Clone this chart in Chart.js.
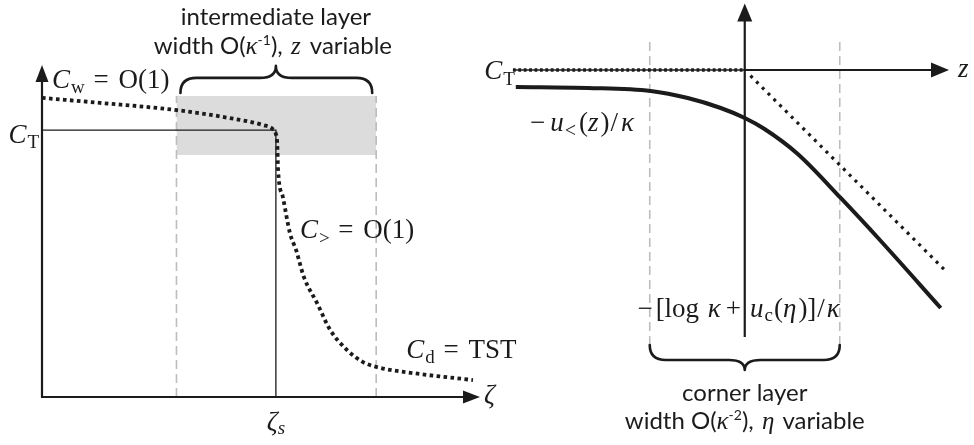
<!DOCTYPE html>
<html>
<head>
<meta charset="utf-8">
<title>Concentration profile with intermediate and corner layers</title>
<script src="https://cdn.jsdelivr.net/npm/chart.js@4"></script>
<style>
  html, body { margin: 0; padding: 0; background: #fff; }
  #wrap { position: relative; width: 974px; height: 445px; overflow: hidden; background: #fff; }
  canvas { position: absolute; top: 0; }
  #left { left: 0; }
  #right { left: 470px; }
</style>
</head>
<body>
<div id="wrap">
  <canvas id="left" width="540" height="445" style="width:540px;height:445px"></canvas>
  <canvas id="right" width="504" height="445" style="width:504px;height:445px"></canvas>
</div>
<script>
// ---------- Left panel: C against ζ (arbitrary units, axes span 0..100) ----------
const leftZeta = [0, 13.2, 30.8, 42.9, 50.5, 52.7, 53.4, 53.7, 53.9, 55.0, 56.6, 58.0, 59.8, 62.8, 65.8, 69.6, 73.3, 76.5, 84.7, 98.4];
const leftC    = [90.1, 88.6, 86.4, 84.0, 81.9, 80.7, 79.2, 76.5, 68.4, 60.2, 49.4, 44.3, 36.1, 28.3, 20.2, 14.2, 10.5, 9.0, 7.2, 5.1];
const zetaS = 53.4;                 // front position ζ_s
const cT = 80.4;                    // level C_T
const layerEdges = [30.7, 76.3];    // intermediate layer bounds in ζ
const shadeBand = [72.9, 90.7];     // shaded band in C

// ---------- Right panel: zoom on the corner, z variable ----------
const zOuter = [-2.41, -1.65, -0.99, -0.60, -0.253, 0, 0.2, 0.558, 1.01, 1.432, 2.063];
const uOuter = [-0.179, -0.189, -0.221, -0.295, -0.40, -0.505, -0.616, -0.884, -1.347, -1.80, -2.505];
const levelZ = [-2.44, 0];          // C_T level, left of the corner
const asymZ = [0.06, 2.1];          // sharp-corner asymptote, slope -1
const cornerEdges = [-1, 1];        // corner layer bounds in z
const cornerSpan = [-2.895, 0.347]; // vertical extent of the corner-layer guides

const INK = '#1b1b1b';
const GUIDE = '#bdbdbd';
const SHADE = '#dcdcdd';
const SERIF = '"Liberation Serif", "DejaVu Serif", serif';
const SANS = 'Lato, "Open Sans", sans-serif';
const M = 27;   // math font size
const SB = 19;  // subscript size

const pts = (xs, ys) => xs.map((x, i) => ({ x, y: ys[i] }));

// text runs: mixed italic / roman / sans pieces on one baseline; pad = extra advance after the piece
const I = (t, size = M, dy = 0, pad = 0) => ({ t, i: true, f: 'r', size, dy, pad });
const R = (t, size = M, dy = 0, pad = 0) => ({ t, i: false, f: 'r', size, dy, pad });
const S = (t, size = 24, dy = 0, pad = 0) => ({ t, i: false, f: 's', size, dy, pad });

function fontOf(p) {
  return (p.i ? 'italic ' : '') + p.size + 'px ' + (p.f === 's' ? SANS : SERIF);
}
function drawRuns(ctx, parts, x, y, align) {
  ctx.save();
  ctx.textBaseline = 'alphabetic';
  ctx.textAlign = 'left';
  ctx.fillStyle = INK;
  let w = 0;
  for (const p of parts) { ctx.font = fontOf(p); p.w = ctx.measureText(p.t).width + p.pad; w += p.w; }
  let cx = align === 'center' ? x - w / 2 : align === 'right' ? x - w : x;
  for (const p of parts) { ctx.font = fontOf(p); ctx.fillText(p.t, cx, y + p.dy); cx += p.w; }
  ctx.restore();
}
function axisArrow(ctx, x0, y0, x1, y1, len, half, width) {
  const d = Math.hypot(x1 - x0, y1 - y0), ux = (x1 - x0) / d, uy = (y1 - y0) / d;
  ctx.save();
  ctx.strokeStyle = INK; ctx.fillStyle = INK; ctx.lineWidth = width; ctx.lineCap = 'butt';
  ctx.beginPath(); ctx.moveTo(x0, y0); ctx.lineTo(x1 - ux * len * 0.7, y1 - uy * len * 0.7); ctx.stroke();
  const bx = x1 - ux * len, by = y1 - uy * len, nx = -uy, ny = ux;
  ctx.beginPath();
  ctx.moveTo(x1, y1);
  ctx.lineTo(bx + nx * half, by + ny * half);
  ctx.lineTo(bx - nx * half, by - ny * half);
  ctx.closePath(); ctx.fill();
  ctx.restore();
}
// horizontal curly brace; yEnd = tips of the arms, yMid = straight part, yTip = central cusp
function brace(ctx, x1, x2, xc, yEnd, yMid, yTip, width) {
  const r = 16;
  ctx.save();
  ctx.strokeStyle = INK; ctx.lineWidth = width; ctx.lineCap = 'round'; ctx.lineJoin = 'round';
  ctx.beginPath();
  ctx.moveTo(x1, yEnd);
  ctx.quadraticCurveTo(x1, yMid, x1 + r, yMid);
  ctx.lineTo(xc - r, yMid);
  ctx.quadraticCurveTo(xc, yMid, xc, yTip);
  ctx.quadraticCurveTo(xc, yMid, xc + r, yMid);
  ctx.lineTo(x2 - r, yMid);
  ctx.quadraticCurveTo(x2, yMid, x2, yEnd);
  ctx.stroke();
  ctx.restore();
}

const hiddenLinear = (min, max) => ({ type: 'linear', min, max, display: false });

// ---------------- left chart ----------------
const leftDecor = {
  id: 'leftDecor',
  afterDatasetsDraw(chart) {
    const ctx = chart.ctx, xs = chart.scales.x, ys = chart.scales.y;
    const ox = xs.getPixelForValue(0), oy = ys.getPixelForValue(0);
    axisArrow(ctx, ox, oy + 1, ox, ys.getPixelForValue(100), 17, 6.5, 2.2);
    axisArrow(ctx, ox - 1, oy, xs.getPixelForValue(100), oy, 17, 6.5, 2.2);

    const xc = xs.getPixelForValue(zetaS);
    const bTop = ys.getPixelForValue(shadeBand[1]);
    brace(ctx, xs.getPixelForValue(layerEdges[0]) + 4, xs.getPixelForValue(layerEdges[1]) - 4, xc,
          bTop - 3, bTop - 18, bTop - 30, 2.6);

    drawRuns(ctx, [S('intermediate layer')], xc, 25, 'center');
    drawRuns(ctx, [S('width O('), I('κ', 25), S('-1', 14, -9), S('), ', 24, 0, 2), I('z', 25, 0, 3), S(' variable')], xc - 3, 54, 'center');

    drawRuns(ctx, [I('C', M, 0, 1), R('w', SB, 5, 2), R(' = ', M, 0, 3), R('O(1)')], ox + 10, 88, 'left');
    drawRuns(ctx, [I('C', M, 0, 1), R('T', SB, 5)], ox - 3, ys.getPixelForValue(cT) + 13, 'right');
    drawRuns(ctx, [I('C', M, 0, 1), R('>', SB, 6, 2), R(' = ', M, 0, 3), R('O(1)')], xc + 24, 238, 'left');
    drawRuns(ctx, [I('C', M, 0, 1), R('d', SB, 5, 2), R(' = ', M, 0, 3), R('TST')], xs.getPixelForValue(layerEdges[1]) + 30, 358, 'left');
    drawRuns(ctx, [I('ζ'), I('s', SB, 4)], xc, 430, 'center');
    drawRuns(ctx, [I('ζ')], xs.getPixelForValue(100) + 4, oy + 6, 'left');
  }
};

new Chart(document.getElementById('left'), {
  type: 'scatter',
  data: {
    datasets: [
      { label: 'C', data: pts(leftZeta, leftC), showLine: true, borderColor: INK, borderWidth: 3.8,
        borderDash: [3.6, 3.4], borderCapStyle: 'butt', cubicInterpolationMode: 'monotone',
        pointRadius: 0, order: 0 },
      { label: 'C_T / ζ_s', data: [{ x: 0, y: cT }, { x: zetaS, y: cT }, { x: zetaS, y: 0 }], showLine: true,
        borderColor: INK, borderWidth: 1.3, pointRadius: 0, order: 1 },
      { label: 'layer edge', data: [{ x: layerEdges[0], y: 0 }, { x: layerEdges[0], y: shadeBand[1] }], showLine: true,
        borderColor: GUIDE, borderWidth: 1.6, borderDash: [9, 5], pointRadius: 0, order: 2 },
      { label: 'layer edge', data: [{ x: layerEdges[1], y: 0 }, { x: layerEdges[1], y: shadeBand[1] }], showLine: true,
        borderColor: GUIDE, borderWidth: 1.6, borderDash: [9, 5], pointRadius: 0, order: 2 },
      { label: 'layer band', data: [{ x: layerEdges[0], y: shadeBand[1] }, { x: layerEdges[1], y: shadeBand[1] }], showLine: true,
        borderWidth: 0, backgroundColor: SHADE, fill: { value: shadeBand[0] }, pointRadius: 0, order: 3 }
    ]
  },
  options: {
    responsive: false, animation: false, devicePixelRatio: 1,
    layout: { padding: { left: 42, right: 60, top: 65, bottom: 48 } },
    scales: { x: hiddenLinear(0, 100), y: hiddenLinear(0, 100) },
    plugins: { legend: { display: false }, tooltip: { enabled: false } }
  },
  plugins: [leftDecor]
});

// ---------------- right chart ----------------
const rightDecor = {
  id: 'rightDecor',
  afterDatasetsDraw(chart) {
    const ctx = chart.ctx, xs = chart.scales.x, ys = chart.scales.y;
    const ox = xs.getPixelForValue(0), oy = ys.getPixelForValue(0);
    axisArrow(ctx, ox, ys.getPixelForValue(-2.81), ox, ys.getPixelForValue(0.7), 18, 7.5, 2.2);
    axisArrow(ctx, ox - 1, oy, xs.getPixelForValue(2.15), oy, 18, 7.5, 2.2);

    const bBot = ys.getPixelForValue(cornerSpan[0]);
    brace(ctx, xs.getPixelForValue(cornerEdges[0]), xs.getPixelForValue(cornerEdges[1]), ox,
          bBot, bBot + 15, bBot + 25, 2.6);

    drawRuns(ctx, [I('C', M, 0, 1), R('T', SB, 6)], xs.getPixelForValue(levelZ[0]) + 2, oy + 9, 'right');
    drawRuns(ctx, [R('−', M, 0, 5), I('u', M, 0, 1), R('<', SB + 1, 6, 3), R('('), I('z', M, 0, 2), R(')', M, 0, 1), R('/', M, 0, 3), I('κ')],
             xs.getPixelForValue(-2.26), oy + 61, 'left');
    drawRuns(ctx, [R('−', M, 0, 3), R('[log ', M, 0, 2), I('κ', M, 0, 5), R('+', M, 0, 9), I('u', M, 0, 1), R('c', SB, 4, 1), R('('), I('η', M, 0, 2), R(')]', M, 0, 1), R('/', M, 0, 2), I('κ')],
             xs.getPixelForValue(-1.13), oy + 247, 'left');
    drawRuns(ctx, [I('z')], xs.getPixelForValue(2.15) + 9, oy + 7, 'left');

    drawRuns(ctx, [S('corner layer')], ox, 401, 'center');
    drawRuns(ctx, [S('width O('), I('κ', 25), S('-2', 14, -9), S('), ', 24, 0, 2), I('η', 25, 0, 2), S(' variable')], ox, 429, 'center');
  }
};

new Chart(document.getElementById('right'), {
  type: 'scatter',
  data: {
    datasets: [
      { label: '-u</κ', data: pts(zOuter, uOuter), showLine: true, borderColor: INK, borderWidth: 4,
        borderCapStyle: 'butt', cubicInterpolationMode: 'monotone', pointRadius: 0, order: 0 },
      { label: 'asymptote', data: [{ x: asymZ[0], y: -asymZ[0] }, { x: asymZ[1], y: -asymZ[1] }], showLine: true,
        borderColor: INK, borderWidth: 3.2, borderDash: [3, 5.2], borderCapStyle: 'butt', pointRadius: 0, order: 1 },
      { label: 'C_T level', data: [{ x: levelZ[0], y: 0 }, { x: levelZ[1], y: 0 }], showLine: true,
        borderColor: INK, borderWidth: 3.4, borderDash: [2.8, 2.6], borderCapStyle: 'butt', pointRadius: 0, order: 1 },
      { label: 'C_T level line', data: [{ x: levelZ[0], y: 0 }, { x: levelZ[1], y: 0 }], showLine: true,
        borderColor: INK, borderWidth: 1.3, pointRadius: 0, order: 1 },
      { label: 'corner edge', data: [{ x: cornerEdges[0], y: cornerSpan[0] }, { x: cornerEdges[0], y: cornerSpan[1] }], showLine: true,
        borderColor: GUIDE, borderWidth: 1.6, borderDash: [9, 5], pointRadius: 0, order: 2 },
      { label: 'corner edge', data: [{ x: cornerEdges[1], y: cornerSpan[0] }, { x: cornerEdges[1], y: cornerSpan[1] }], showLine: true,
        borderColor: GUIDE, borderWidth: 1.6, borderDash: [9, 5], pointRadius: 0, order: 2 }
    ]
  },
  options: {
    responsive: false, animation: false, devicePixelRatio: 1,
    layout: { padding: { left: 42, right: 25, top: 3.5, bottom: 90 } },
    scales: { x: hiddenLinear(-2.45, 2.15), y: hiddenLinear(-3.0, 0.7) },
    plugins: { legend: { display: false }, tooltip: { enabled: false } }
  },
  plugins: [rightDecor]
});
</script>
</body>
</html>
